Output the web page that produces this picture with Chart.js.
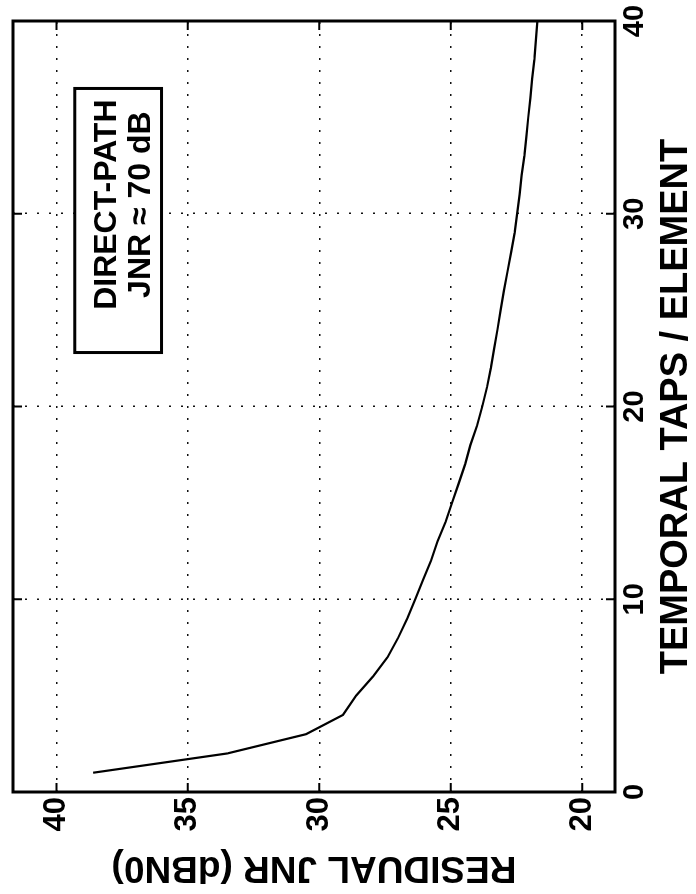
<!DOCTYPE html>
<html>
<head>
<meta charset="utf-8">
<title>Residual JNR vs temporal taps</title>
<script src="https://cdn.jsdelivr.net/npm/chart.js@4/dist/chart.umd.min.js"></script>
<style>
  html, body { margin: 0; padding: 0; background: #fff; overflow: hidden; }
  body { width: 696px; height: 894px; position: relative; }
  /* the figure is printed sideways: draw it upright, then turn it a quarter left */
  #wrap {
    position: absolute; left: 0; top: 0;
    width: 894px; height: 696px;
    transform-origin: 0 0;
    transform: translate(0, 894px) rotate(-90deg);
  }
</style>
</head>
<body>
<div id="wrap"><canvas id="jnrChart" width="894" height="696"></canvas></div>
<script>
// data
const taps = [1, 2, 3, 4, 5, 6, 7, 8, 9, 10,
              11, 12, 13, 14, 15, 16, 17, 18, 19, 20,
              21, 22, 23, 24, 25, 26, 27, 28, 29, 30,
              31, 32, 33, 34, 35, 36, 37, 38, 39, 40];
const residualJnr = [38.6, 33.5, 30.5, 29.1, 28.6, 27.95, 27.4, 27.0, 26.65, 26.35,
                     26.05, 25.75, 25.5, 25.2, 24.95, 24.7, 24.45, 24.25, 24.0, 23.8,
                     23.62, 23.47, 23.35, 23.22, 23.1, 22.98, 22.84, 22.7, 22.57, 22.47,
                     22.38, 22.3, 22.2, 22.12, 22.05, 21.97, 21.9, 21.82, 21.76, 21.7];
const tapTicks = [0, 10, 20, 30, 40];
const jnrTicks = [20, 25, 30, 35, 40];
const noteLines = ["DIRECT-PATH", "JNR \u2248 70 dB"];

const FONT = "'Liberation Sans', Arial, Helvetica, sans-serif";

// frame round the axes with inward ticks, like the original plot
const framePlugin = {
  id: "frame",
  afterDraw(chart) {
    const { ctx, chartArea: a, scales: { x, y } } = chart;
    ctx.save();
    ctx.strokeStyle = "#000";
    ctx.lineWidth = 2;
    ctx.beginPath();
    tapTicks.forEach(function (v) {
      const px = x.getPixelForValue(v);
      ctx.moveTo(px, a.bottom); ctx.lineTo(px, a.bottom - 9);
      ctx.moveTo(px, a.top); ctx.lineTo(px, a.top + 9);
    });
    jnrTicks.forEach(function (v) {
      const py = y.getPixelForValue(v);
      ctx.moveTo(a.left, py); ctx.lineTo(a.left + 9, py);
      ctx.moveTo(a.right, py); ctx.lineTo(a.right - 9, py);
    });
    ctx.stroke();
    ctx.lineWidth = 3;
    ctx.strokeRect(a.left, a.top, a.right - a.left, a.bottom - a.top);
    ctx.restore();
  }
};

// boxed note, placed in data units
const noteBox = { tapFrom: 22.8, tapTo: 36.5, jnrTop: 39.3, jnrBottom: 36.0 };
const notePlugin = {
  id: "note",
  afterDatasetsDraw(chart) {
    const { ctx, scales: { x, y } } = chart;
    const x0 = x.getPixelForValue(noteBox.tapFrom);
    const x1 = x.getPixelForValue(noteBox.tapTo);
    const y0 = y.getPixelForValue(noteBox.jnrTop);
    const y1 = y.getPixelForValue(noteBox.jnrBottom);
    ctx.save();
    ctx.fillStyle = "#fff";
    ctx.fillRect(x0, y0, x1 - x0, y1 - y0);
    ctx.strokeStyle = "#000";
    ctx.lineWidth = 3;
    ctx.strokeRect(x0, y0, x1 - x0, y1 - y0);
    ctx.fillStyle = "#000";
    ctx.font = "bold 32px " + FONT;
    ctx.textAlign = "center";
    ctx.textBaseline = "alphabetic";
    const cx = x0 + (x1 - x0) * 0.56;
    ctx.fillText(noteLines[0], cx, y0 + 41);
    ctx.fillText(noteLines[1], cx, y0 + 75);
    ctx.restore();
  }
};

const ctx = document.getElementById("jnrChart").getContext("2d");
new Chart(ctx, {
  type: "line",
  data: {
    datasets: [
      {
        label: "Residual JNR",
        data: taps.map(function (t, i) { return { x: t, y: residualJnr[i] }; }),
        borderColor: "#000",
        borderWidth: 2.2,
        pointRadius: 0,
        tension: 0,
        fill: false,
      },
    ],
  },
  options: {
    responsive: false,
    animation: false,
    devicePixelRatio: 1,
    layout: { padding: { left: 0, top: 13, right: 21, bottom: 0 } },
    plugins: {
      legend: { display: false },
      tooltip: { enabled: false },
    },
    scales: {
      x: {
        type: "linear",
        min: 0,
        max: 40,
        afterBuildTicks: function (s) { s.ticks = tapTicks.map(function (v) { return { value: v }; }); },
        afterFit: function (s) { s.height = 81; s.paddingLeft = 0; s.paddingRight = 0; },
        ticks: {
          color: "#000",
          font: { family: FONT, size: 29, weight: "bold" },
          padding: 3,
          maxRotation: 0,
          autoSkip: false,
        },
        grid: { color: "#111", lineWidth: 1.5, drawTicks: false },
        border: { display: false, dash: [2, 10] },
        title: {
          display: true,
          text: "TEMPORAL TAPS / ELEMENT",
          color: "#000",
          font: { family: FONT, size: 38, weight: "bold", lineHeight: 1 },
          padding: 0,
        },
      },
      y: {
        type: "linear",
        min: 18.75,
        max: 41.65,
        afterBuildTicks: function (s) { s.ticks = jnrTicks.map(function (v) { return { value: v }; }); },
        afterFit: function (s) { s.width = 102; s.paddingTop = 0; s.paddingBottom = 0; },
        ticks: {
          color: "#000",
          font: { family: FONT, size: 31, weight: "bold" },
          padding: 5,
          autoSkip: false,
        },
        grid: { color: "#111", lineWidth: 1.5, drawTicks: false },
        border: { display: false, dash: [2, 10] },
        title: {
          display: true,
          text: "RESIDUAL JNR (dBN0)",
          color: "#000",
          font: { family: FONT, size: 37, weight: "bold", lineHeight: 1 },
          padding: { top: 8, bottom: 0 },
        },
      },
    },
  },
  plugins: [notePlugin, framePlugin],
});
</script>
</body>
</html>
